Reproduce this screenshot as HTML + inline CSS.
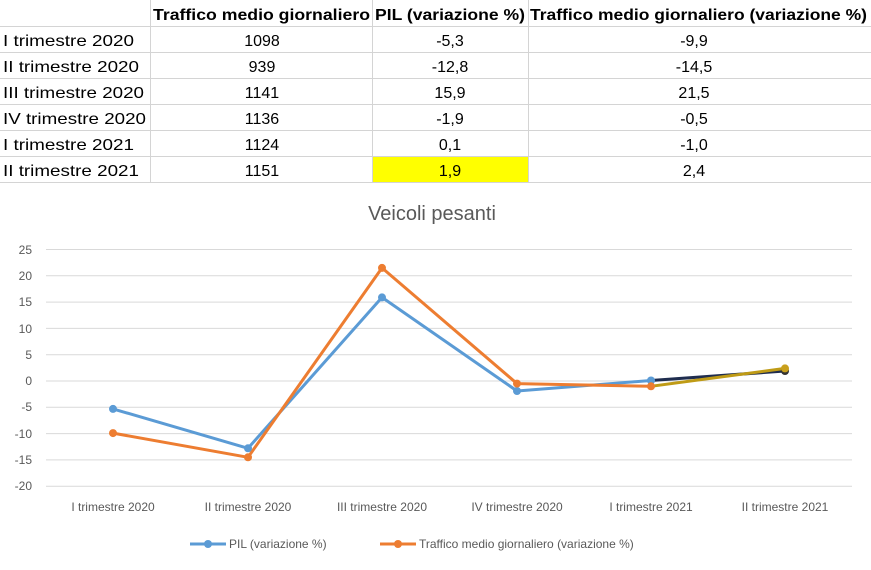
<!DOCTYPE html>
<html><head><style>
body{margin:0;width:871px;height:570px;background:#fff;font-family:"Liberation Sans",sans-serif;overflow:hidden;position:relative}
</style></head><body>
<svg width="871" height="570" style="position:absolute;left:0;top:0" font-family="Liberation Sans, sans-serif">
<rect x="373" y="157" width="155" height="26" fill="#ffff00"/>
<g stroke="#d4d4d4" stroke-width="1">
<line x1="0" y1="26.5" x2="871" y2="26.5"/><line x1="0" y1="52.5" x2="871" y2="52.5"/><line x1="0" y1="78.5" x2="871" y2="78.5"/><line x1="0" y1="104.5" x2="871" y2="104.5"/><line x1="0" y1="130.5" x2="871" y2="130.5"/><line x1="0" y1="156.5" x2="871" y2="156.5"/><line x1="0" y1="182.5" x2="871" y2="182.5"/>
<line x1="150.5" y1="0" x2="150.5" y2="183"/><line x1="372.5" y1="0" x2="372.5" y2="183"/><line x1="528.5" y1="0" x2="528.5" y2="183"/>
</g>
<g font-size="16" font-weight="bold">
<text x="153" y="20" textLength="217" lengthAdjust="spacingAndGlyphs">Traffico medio giornaliero</text>
<text x="375" y="20" textLength="150" lengthAdjust="spacingAndGlyphs">PIL (variazione %)</text>
<text x="530" y="20" textLength="337" lengthAdjust="spacingAndGlyphs">Traffico medio giornaliero (variazione %)</text>
</g>
<g font-size="16">
<text x="3" y="46" textLength="131" lengthAdjust="spacingAndGlyphs">I trimestre 2020</text>
<text x="3" y="72" textLength="136" lengthAdjust="spacingAndGlyphs">II trimestre 2020</text>
<text x="3" y="98" textLength="141" lengthAdjust="spacingAndGlyphs">III trimestre 2020</text>
<text x="3" y="124" textLength="143" lengthAdjust="spacingAndGlyphs">IV trimestre 2020</text>
<text x="3" y="150" textLength="131" lengthAdjust="spacingAndGlyphs">I trimestre 2021</text>
<text x="3" y="176" textLength="136" lengthAdjust="spacingAndGlyphs">II trimestre 2021</text>
</g>
<g font-size="16" text-anchor="middle">
<text x="262" y="46">1098</text><text x="262" y="72">939</text><text x="262" y="98">1141</text><text x="262" y="124">1136</text><text x="262" y="150">1124</text><text x="262" y="176">1151</text>
<text x="450" y="46">-5,3</text><text x="450" y="72">-12,8</text><text x="450" y="98">15,9</text><text x="450" y="124">-1,9</text><text x="450" y="150">0,1</text><text x="450" y="176">1,9</text>
<text x="694" y="46">-9,9</text><text x="694" y="72">-14,5</text><text x="694" y="98">21,5</text><text x="694" y="124">-0,5</text><text x="694" y="150">-1,0</text><text x="694" y="176">2,4</text>
</g>
<text x="432" y="220" font-size="20" fill="#595959" text-anchor="middle">Veicoli pesanti</text>
<g stroke="#d9d9d9" stroke-width="1">
<line x1="46" y1="249.5" x2="852" y2="249.5"/><line x1="46" y1="275.8" x2="852" y2="275.8"/><line x1="46" y1="302.1" x2="852" y2="302.1"/><line x1="46" y1="328.4" x2="852" y2="328.4"/><line x1="46" y1="354.7" x2="852" y2="354.7"/><line x1="46" y1="381" x2="852" y2="381"/><line x1="46" y1="407.3" x2="852" y2="407.3"/><line x1="46" y1="433.6" x2="852" y2="433.6"/><line x1="46" y1="459.9" x2="852" y2="459.9"/><line x1="46" y1="486.2" x2="852" y2="486.2"/>
</g>
<g font-size="12" fill="#595959" text-anchor="end">
<text x="32" y="254">25</text><text x="32" y="280">20</text><text x="32" y="306">15</text><text x="32" y="333">10</text><text x="32" y="359">5</text><text x="32" y="385">0</text><text x="32" y="411">-5</text><text x="32" y="438">-10</text><text x="32" y="464">-15</text><text x="32" y="490">-20</text>
</g>
<g font-size="12" fill="#595959" text-anchor="middle">
<text x="113" y="511">I trimestre 2020</text><text x="248" y="511">II trimestre 2020</text><text x="382" y="511">III trimestre 2020</text><text x="517" y="511">IV trimestre 2020</text><text x="651" y="511">I trimestre 2021</text><text x="785" y="511">II trimestre 2021</text>
</g>
<polyline fill="none" stroke="#5b9bd5" stroke-width="3" stroke-linejoin="round" points="113,408.9 248,448.3 382,297.4 517,391"/>
<polyline fill="none" stroke="#5b9bd5" stroke-width="3" points="517,391 651,380.5"/>
<polyline fill="none" stroke="#1f2d4f" stroke-width="3" points="651,380.5 785,371"/>
<polyline fill="none" stroke="#ed7d31" stroke-width="3" stroke-linejoin="round" points="113,433.1 248,457.3 382,267.9 517,383.6 651,386.3"/>
<polyline fill="none" stroke="#bf9b16" stroke-width="3" points="651,386.3 785,368.4"/>
<g fill="#5b9bd5"><circle cx="113" cy="408.9" r="4"/><circle cx="248" cy="448.3" r="4"/><circle cx="382" cy="297.4" r="4"/><circle cx="517" cy="391" r="4"/><circle cx="651" cy="380.5" r="4"/></g>
<circle cx="785" cy="371" r="4" fill="#333"/>
<g fill="#ed7d31"><circle cx="113" cy="433.1" r="4"/><circle cx="248" cy="457.3" r="4"/><circle cx="382" cy="267.9" r="4"/><circle cx="517" cy="383.6" r="4"/><circle cx="651" cy="386.3" r="4"/></g>
<circle cx="785" cy="368.4" r="4" fill="#c9a01c"/>
<line x1="190" y1="544" x2="226" y2="544" stroke="#5b9bd5" stroke-width="3"/><circle cx="208" cy="544" r="4" fill="#5b9bd5"/>
<text x="229" y="548" font-size="12" fill="#595959">PIL (variazione %)</text>
<line x1="380" y1="544" x2="416" y2="544" stroke="#ed7d31" stroke-width="3"/><circle cx="398" cy="544" r="4" fill="#ed7d31"/>
<text x="419" y="548" font-size="12" fill="#595959">Traffico medio giornaliero (variazione %)</text>
</svg>
</body></html>
